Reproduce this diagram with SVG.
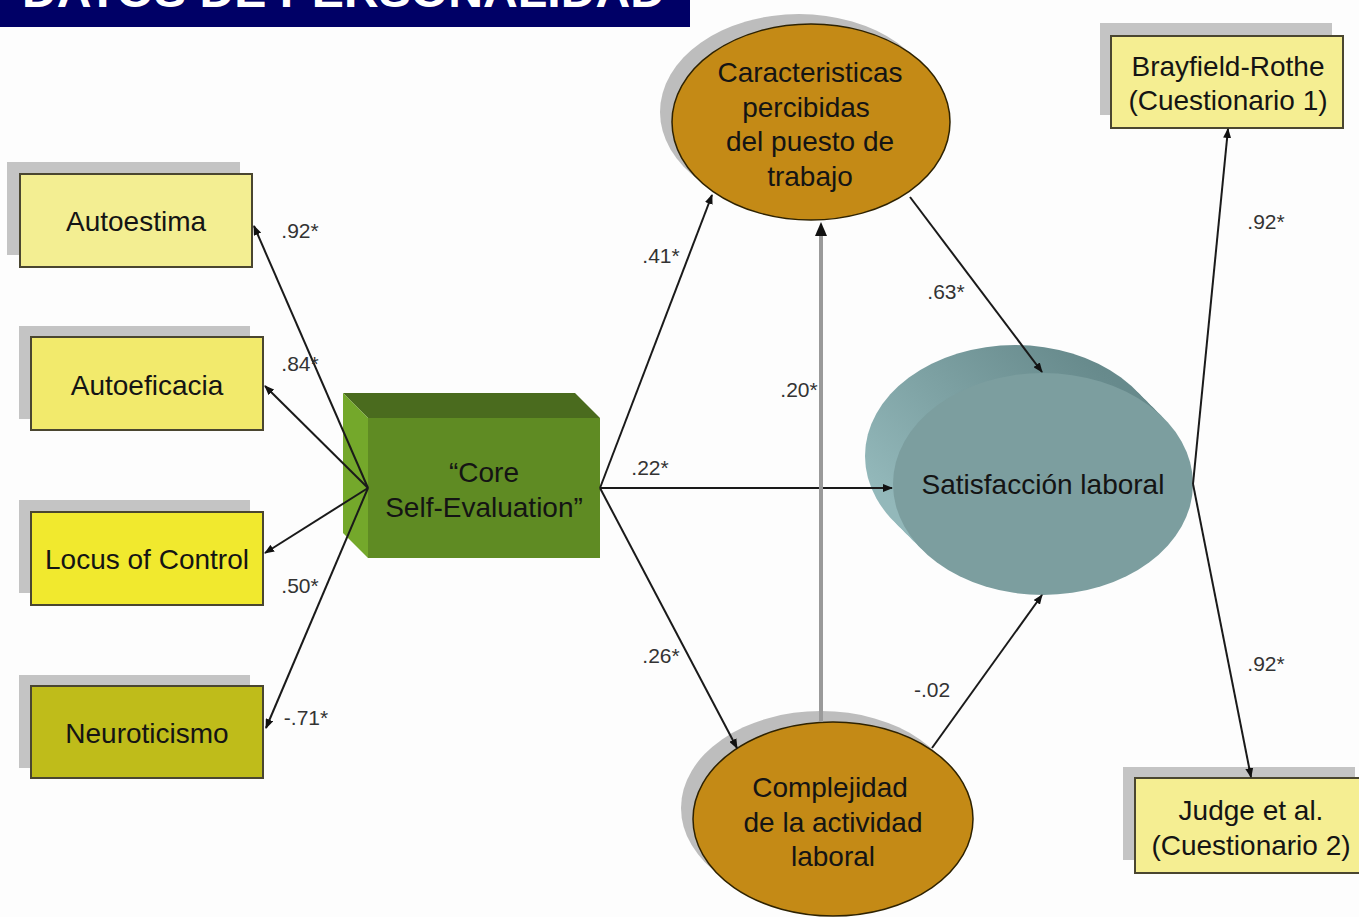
<svg xmlns="http://www.w3.org/2000/svg" width="1359" height="917" viewBox="0 0 1359 917">
<style>
  .t{font-family:"Liberation Sans",Arial,sans-serif;font-size:28px;fill:#141414;text-anchor:middle}
  .lbl{font-family:"Liberation Sans",Arial,sans-serif;font-size:21px;fill:#333;text-anchor:middle}
  .box{stroke:#4a4630;stroke-width:2}
  .shadow{fill:#c4c4c4}
  .edge{stroke:#1a1a1a;stroke-width:2;fill:none;marker-end:url(#ah)}
  .oval{fill:#c48a16;stroke:#2e2200;stroke-width:1.5}
</style>
<defs>
  <marker id="ah" markerWidth="10" markerHeight="8" refX="9" refY="4" orient="auto" markerUnits="userSpaceOnUse">
    <path d="M0,0 L10,4 L0,8 Z" fill="#111"/>
  </marker>
  <linearGradient id="side" x1="0" y1="0.6" x2="0.7" y2="0">
    <stop offset="0" stop-color="#93b8ba"/>
    <stop offset="1" stop-color="#678a8c"/>
  </linearGradient>
</defs>
<rect width="1359" height="917" fill="#fdfdfd"/>
<g id="title">
  <rect x="0" y="0" width="690" height="27" fill="#000066"/>
  <text x="22" y="7" font-family="Liberation Sans,Arial,sans-serif" font-weight="bold" font-size="46" fill="#fff" textLength="643" lengthAdjust="spacingAndGlyphs">DATOS DE PERSONALIDAD</text>
</g>
<g id="autoestima">
  <rect class="shadow" x="7" y="162" width="233" height="93"/>
  <rect class="box" x="20" y="174" width="232" height="93" fill="#f3ee92"/>
  <text class="t" x="136" y="231">Autoestima</text>
</g>
<g id="autoeficacia">
  <rect class="shadow" x="19" y="326" width="231" height="93"/>
  <rect class="box" x="31" y="337" width="232" height="93" fill="#f2ea6c"/>
  <text class="t" x="147" y="395">Autoeficacia</text>
</g>
<g id="locus">
  <rect class="shadow" x="19" y="500" width="231" height="93"/>
  <rect class="box" x="31" y="512" width="232" height="93" fill="#f1e92e"/>
  <text class="t" x="147" y="569">Locus of Control</text>
</g>
<g id="neuroticismo">
  <rect class="shadow" x="19" y="675" width="231" height="93"/>
  <rect class="box" x="31" y="686" width="232" height="92" fill="#bfbc1a"/>
  <text class="t" x="147" y="743">Neuroticismo</text>
</g>
<g id="core">
  <polygon points="343,393 575,393 600,418 368,418" fill="#4a6b1e"/>
  <polygon points="343,393 368,418 368,558 343,533" fill="#74a82b"/>
  <rect x="368" y="418" width="232" height="140" fill="#5f8b23"/>
  <text class="t" x="484" y="482">“Core</text>
  <text class="t" x="484" y="517">Self-Evaluation”</text>
</g>
<g id="caracteristicas">
  <ellipse cx="799" cy="112" rx="139" ry="98" fill="#bdbdbd"/>
  <ellipse class="oval" cx="811" cy="122" rx="139" ry="98"/>
  <text class="t" x="810" y="82">Caracteristicas</text>
  <text class="t" x="806" y="117">percibidas</text>
  <text class="t" x="810" y="151">del puesto de</text>
  <text class="t" x="810" y="186">trabajo</text>
</g>
<g id="complejidad">
  <ellipse cx="821" cy="808" rx="140" ry="97" fill="#bdbdbd"/>
  <ellipse class="oval" cx="833" cy="819" rx="140" ry="97"/>
  <text class="t" x="830" y="797">Complejidad</text>
  <text class="t" x="833" y="832">de la actividad</text>
  <text class="t" x="833" y="866">laboral</text>
</g>
<g id="satisfaccion">
  <ellipse cx="1015" cy="456" rx="150" ry="111" fill="url(#side)"/>
  <ellipse cx="1022" cy="463" rx="150" ry="111" fill="url(#side)"/>
  <ellipse cx="1029" cy="470" rx="150" ry="111" fill="url(#side)"/>
  <ellipse cx="1036" cy="477" rx="150" ry="111" fill="url(#side)"/>
  <ellipse cx="1043" cy="484" rx="150" ry="111" fill="#7c9e9f"/>
  <text class="t" x="1043" y="494">Satisfacción laboral</text>
</g>
<g id="brayfield">
  <rect class="shadow" x="1100" y="23" width="232" height="92"/>
  <rect class="box" x="1111" y="36" width="232" height="92" fill="#f5ee92"/>
  <text class="t" x="1228" y="76">Brayfield-Rothe</text>
  <text class="t" x="1228" y="110">(Cuestionario 1)</text>
</g>
<g id="judge">
  <rect class="shadow" x="1123" y="767" width="232" height="93"/>
  <rect class="box" x="1135" y="778" width="232" height="95" fill="#f5ee92"/>
  <text class="t" x="1251" y="820">Judge et al.</text>
  <text class="t" x="1251" y="855">(Cuestionario 2)</text>
</g>
<g id="connectors">
  <line class="edge" x1="368" y1="488" x2="254" y2="226"/>
  <line class="edge" x1="368" y1="488" x2="265" y2="386"/>
  <line class="edge" x1="368" y1="488" x2="265" y2="553"/>
  <line class="edge" x1="368" y1="488" x2="266" y2="728"/>
  <line class="edge" x1="600" y1="488" x2="712" y2="195"/>
  <line class="edge" x1="600" y1="488" x2="892" y2="488"/>
  <line class="edge" x1="600" y1="488" x2="737" y2="748"/>
  <line x1="821" y1="722" x2="821" y2="236" stroke="#9a9a9a" stroke-width="4"/>
  <path d="M815,236 L821,222 L827,236 Z" fill="#111"/>
  <line class="edge" x1="910" y1="197" x2="1042" y2="372"/>
  <line class="edge" x1="932" y1="748" x2="1042" y2="595"/>
  <line class="edge" x1="1193" y1="484" x2="1228" y2="129"/>
  <line class="edge" x1="1193" y1="484" x2="1251" y2="777"/>
  <text class="lbl" x="300" y="238">.92*</text>
  <text class="lbl" x="300" y="371">.84*</text>
  <text class="lbl" x="300" y="593">.50*</text>
  <text class="lbl" x="306" y="725">-.71*</text>
  <text class="lbl" x="661" y="263">.41*</text>
  <text class="lbl" x="650" y="475">.22*</text>
  <text class="lbl" x="661" y="663">.26*</text>
  <text class="lbl" x="799" y="397">.20*</text>
  <text class="lbl" x="946" y="299">.63*</text>
  <text class="lbl" x="932" y="697">-.02</text>
  <text class="lbl" x="1266" y="229">.92*</text>
  <text class="lbl" x="1266" y="671">.92*</text>
</g>
</svg>
